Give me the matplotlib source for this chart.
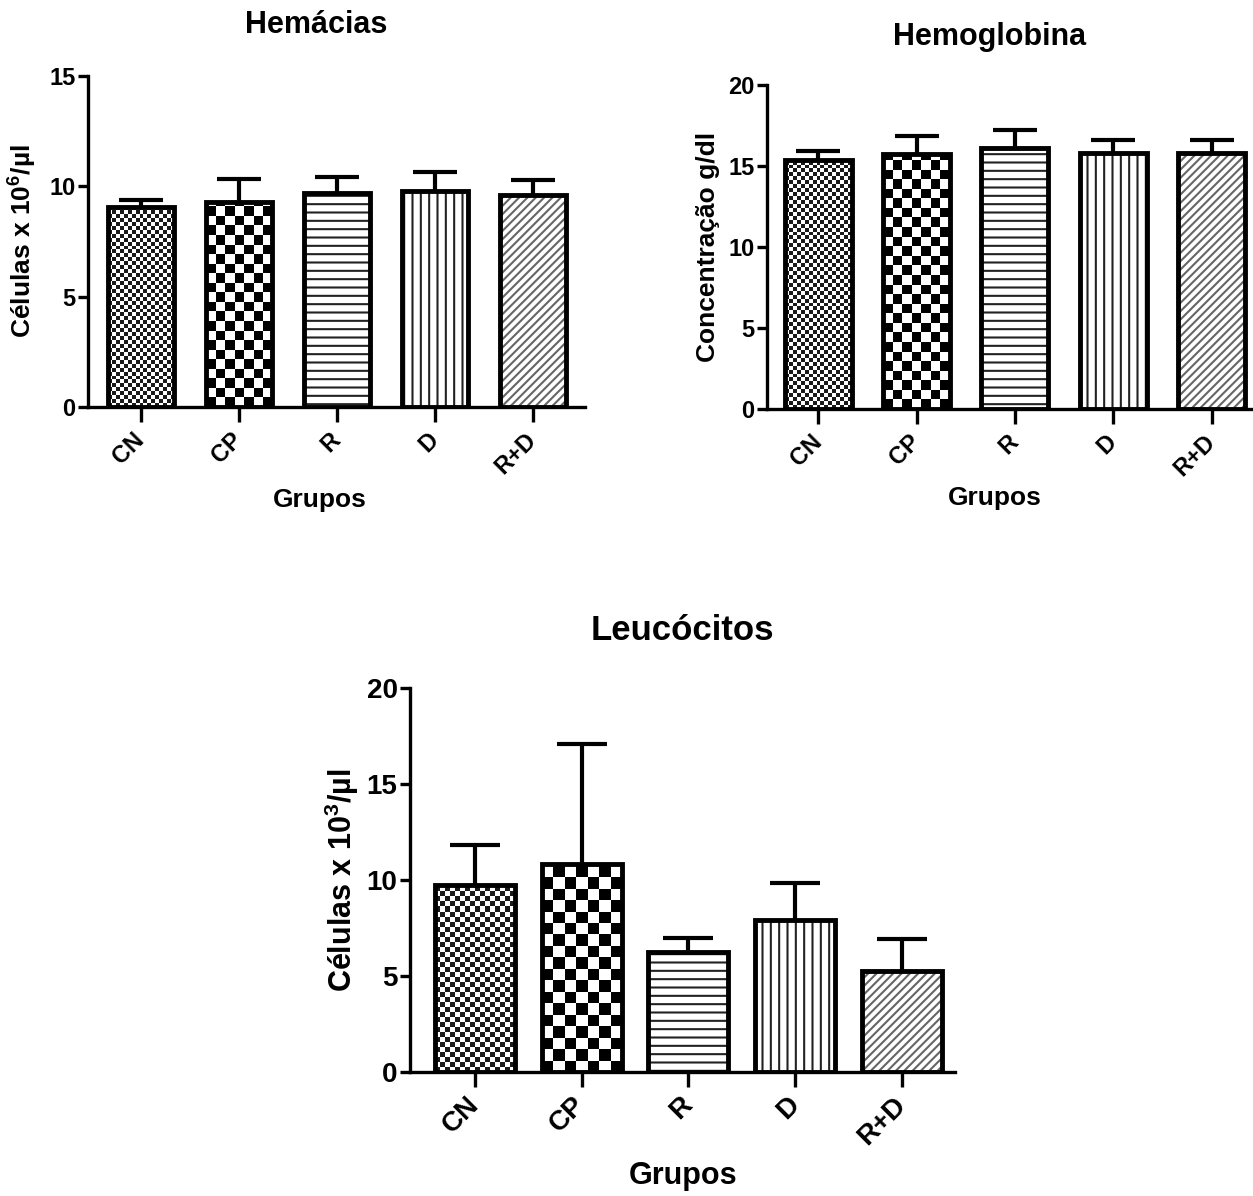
import numpy as np
import matplotlib
matplotlib.use('Agg')
import matplotlib.pyplot as plt
from matplotlib.colors import ListedColormap

plt.rcParams['font.family'] = ['Liberation Sans', 'DejaVu Sans']
plt.rcParams['font.weight'] = 'bold'
plt.rcParams['mathtext.fontset'] = 'custom'
plt.rcParams['mathtext.rm'] = 'Liberation Sans:bold'
plt.rcParams['mathtext.it'] = 'Liberation Sans:bold'
plt.rcParams['mathtext.bf'] = 'Liberation Sans:bold'
plt.rcParams['hatch.linewidth'] = 1.5

# === dados ===
grupos = ['CN', 'CP', 'R', 'D', 'R+D']

hemacias = [9.07, 9.3, 9.68, 9.8, 9.6]
hemacias_err = [0.3, 1.05, 0.75, 0.83, 0.68]

hemoglobina = [15.4, 15.77, 16.14, 15.8, 15.8]
hemoglobina_err = [0.55, 1.08, 1.06, 0.8, 0.8]

leucocitos = [9.76, 10.85, 6.25, 7.9, 5.26]
leucocitos_err = [2.04, 6.25, 0.75, 1.96, 1.68]

W, H = 1253, 1196
fig = plt.figure(figsize=(W / 100, H / 100), dpi=100)


def checker(ax, bar, cell_px, c1, c2):
    # preenche a barra com um xadrez, recortado pelo retangulo
    x0, y0 = bar.get_x(), bar.get_y()
    w, h = bar.get_width(), bar.get_height()
    pos = ax.get_position()
    xl, yl = ax.get_xlim(), ax.get_ylim()
    px_x = pos.width * W / (xl[1] - xl[0])
    px_y = pos.height * H / (yl[1] - yl[0])
    nx = max(1, int(round(w * px_x / cell_px)))
    cw_px = w * px_x / nx
    ch = cw_px / px_y
    ny = int(np.ceil(h / ch))
    arr = np.add.outer(np.arange(ny), np.arange(nx)) % 2
    im = ax.imshow(arr, cmap=ListedColormap([c1, c2]), extent=(x0, x0 + w, y0, y0 + ny * ch),
                   origin='lower', interpolation='nearest', aspect='auto', zorder=2)
    im.set_clip_path(bar)


def painel(rect, valores, erros, ymax, bw, xlim, titulo, tpos, ylabel, ylx, xlpos, fs, cap, cells):
    ax = fig.add_axes(rect)
    x = np.arange(len(grupos))
    ax.set_xlim(*xlim)
    ax.set_ylim(0, ymax)
    eb = ax.errorbar(x, valores, yerr=[np.zeros(len(erros)), erros], fmt='none', ecolor='black',
                     elinewidth=3, capsize=cap, capthick=3, zorder=1)
    eb[1][0].set_visible(False)  # so a barra de erro superior
    bars = ax.bar(x, valores, width=bw, facecolor='none', edgecolor='black', linewidth=3.5, zorder=4)
    # padroes
    checker(ax, bars[0], cells[0], '#1a1a1a', 'white')
    checker(ax, bars[1], cells[1], 'black', 'white')
    ax.bar(x[2], valores[2], width=bw, facecolor='white', edgecolor='#222222', hatch='--', linewidth=0, zorder=2)
    ax.bar(x[3], valores[3], width=bw, facecolor='white', edgecolor='#222222', hatch='||', linewidth=0, zorder=2)
    ax.bar(x[4], valores[4], width=bw, facecolor='white', edgecolor='#666666', hatch='////', linewidth=0, zorder=2)
    ax.set_xlim(*xlim)
    ax.set_ylim(0, ymax)

    for s in ['top', 'right']:
        ax.spines[s].set_visible(False)
    for s in ['left', 'bottom']:
        ax.spines[s].set_linewidth(2.4)
    ax.set_yticks(np.arange(0, ymax + 1, 5))
    ax.set_xticks(x)
    ax.set_xticklabels(grupos, rotation=45, ha='right', va='center', rotation_mode='anchor')
    ax.tick_params(axis='y', direction='out', length=7, width=2.4, labelsize=fs, pad=2)
    ax.tick_params(axis='x', direction='out', length=11, width=2.4, labelsize=fs, pad=10)
    for t in ax.get_xticklabels() + ax.get_yticklabels():
        t.set_fontweight('bold')
    ax.set_ylabel(ylabel, fontsize=fs + 2, fontweight='bold', va='center')
    ax.yaxis.set_label_coords(ylx, 0.5)
    fig.text(xlpos[0] / W, 1 - xlpos[1] / H, 'Grupos', ha='center', va='center',
             fontsize=fs + 2, fontweight='bold')
    fig.text(tpos[0] / W, 1 - tpos[1] / H, titulo, ha='center', va='center',
             fontsize=fs + 5, fontweight='bold')
    return ax


# 1. Hemacias
painel([88 / W, 1 - 407 / H, (585 - 88) / W, (407 - 76) / H],
       hemacias, hemacias_err, 15, 0.68, (-0.54, 4.53),
       'Hemácias', (316, 25), 'Células x 10$^{6}$/µl', -0.131, (320, 500), 17, 16, (4, 9))

# 2. Hemoglobina
painel([767 / W, 1 - 409 / H, (1253 - 767) / W, (409 - 85) / H],
       hemoglobina, hemoglobina_err, 20, 0.68, (-0.52, 4.42),
       'Hemoglobina', (990, 37), 'Concentração g/dl', -0.121, (995, 498), 17, 16, (4, 9))

# 3. Leucocitos
painel([410 / W, 1 - 1072 / H, (955 - 410) / W, (1072 - 688) / H],
       leucocitos, leucocitos_err, 20, 0.75, (-0.61, 4.5),
       'Leucócitos', (682, 630), 'Células x 10$^{3}$/µl', -0.125, (683, 1176), 20, 18, (5, 11))

plt.savefig('out.png', dpi=100)
